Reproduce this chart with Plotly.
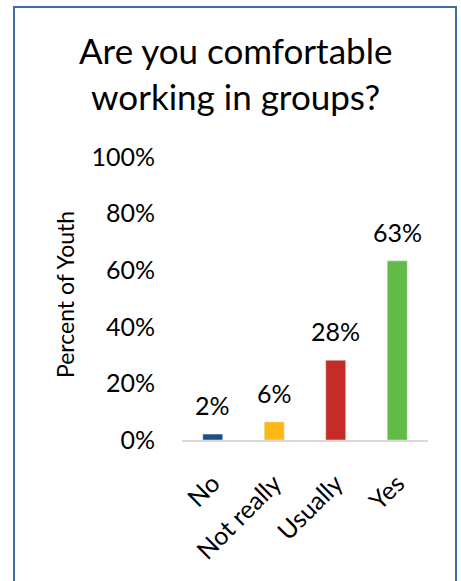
import plotly.graph_objects as go

categories = ["No", "Not really", "Usually", "Yes"]
values = [2.1, 6.4, 28.2, 63.3]
labels = ["2%", "6%", "28%", "63%"]
colors = ["#1F4E85", "#FDB913", "#C52B27", "#62BB46"]
y_ticks = [0, 20, 40, 60, 80, 100]
y_ticktext = ["0%", "20%", "40%", "60%", "80%", "100%"]

FONT = "Lato"
W, H = 461, 581
L, R, T, B = 182, 33, 157, 141
pw, ph = W - L - R, H - T - B

def px_x(x):
    return (x - L) / pw

def px_y(y):
    return (H - B - y) / ph

fig = go.Figure(go.Bar(
    x=categories, y=values, marker_color=colors, width=0.325,
    hoverinfo="x+y",
))

value_labels = [
    dict(x=c, y=v, text=t, xref="x", yref="y", showarrow=False,
         xanchor="center", yanchor="bottom", yshift=12,
         font=dict(family=FONT, size=25, color="#000000"))
    for c, v, t in zip(categories, values, labels)
]

fig.update_layout(
    width=W, height=H,
    margin=dict(l=L, r=R, t=T, b=B),
    paper_bgcolor="white", plot_bgcolor="white",
    showlegend=False,
    xaxis=dict(showline=True, linecolor="#D9D9D9", linewidth=2,
               tickangle=-45, ticks="", showgrid=False,
               ticklabelstandoff=17,
               tickfont=dict(family=FONT, size=25, color="#000000")),
    yaxis=dict(range=[0, 100], tickvals=y_ticks, ticktext=y_ticktext,
               showgrid=False, zeroline=False, showline=False, ticks="",
               ticklabelstandoff=26,
               tickfont=dict(family=FONT, size=25, color="#000000")),
    annotations=value_labels + [
        dict(text="Are you comfortable<br>working in groups?",
             x=px_x(235), y=px_y(73), xref="paper", yref="paper",
             showarrow=False, xanchor="center", yanchor="middle",
             font=dict(family=FONT, size=35, color="#000000")),
        dict(text="Percent of Youth", textangle=-90,
             x=px_x(65), y=px_y(295), xref="paper", yref="paper",
             showarrow=False, xanchor="center", yanchor="middle",
             font=dict(family=FONT, size=23, color="#000000")),
    ],
    shapes=[dict(type="rect", xref="paper", yref="paper",
                 x0=px_x(14), x1=px_x(456), y0=px_y(7), y1=px_y(600),
                 line=dict(color="#3F6AA8", width=2), fillcolor="rgba(0,0,0,0)",
                 layer="above")],
)

fig.write_html("out.html", config={"displayModeBar": False},
               post_script="document.body.style.margin='0';document.body.style.overflow='hidden';")
